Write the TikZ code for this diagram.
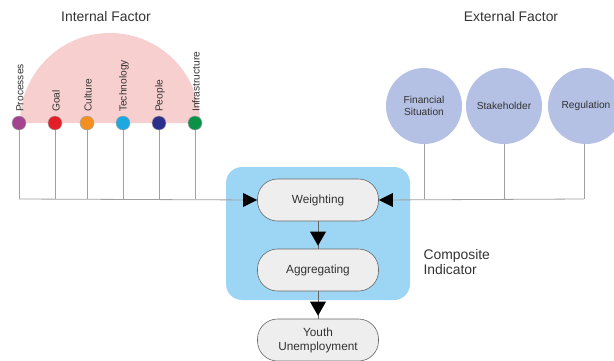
\documentclass[tikz,border=0pt]{standalone}
\usepackage{fontspec}
\setmainfont{Liberation Sans}
\usetikzlibrary{arrows.meta}
\definecolor{pinkdisc}{HTML}{F8CFCF}
\definecolor{lavender}{HTML}{B4C0E4}
\definecolor{skybox}{HTML}{9DD6F5}
\definecolor{pillfill}{HTML}{EEEEEE}
\definecolor{linegray}{HTML}{A0A0A0}
\definecolor{cProc}{HTML}{A3448F}
\definecolor{cGoal}{HTML}{E31E26}
\definecolor{cCult}{HTML}{F39020}
\definecolor{cTech}{HTML}{1DA8E2}
\definecolor{cPeop}{HTML}{2B2F8C}
\definecolor{cInfr}{HTML}{0B9247}
\tikzset{
  pill/.style={draw=gray!80!black, line width=0.6pt, fill=pillfill, rounded corners=20pt,
    minimum width=121pt, minimum height=42pt, inner sep=0pt, align=center, font=\fontsize{11.8}{14}\selectfont, text=black!80},
  dot/.style={circle, draw=gray!70, line width=0.5pt, minimum size=14pt, inner sep=0pt},
  extc/.style={circle, fill=lavender, minimum size=76pt, inner sep=0pt, align=center, font=\fontsize{10.2}{12.5}\selectfont, text=black!80},
  conn/.style={draw=linegray, line width=0.8pt},
  flow/.style={draw=gray!80!black, line width=0.8pt},
  vlabel/.style={rotate=90, anchor=west, inner sep=0pt, font=\fontsize{10.2}{11}\selectfont, text=black!80},
  title/.style={font=\fontsize{13.9}{16}\selectfont, text=black!80}
}
\begin{document}
\begin{tikzpicture}[x=1pt,y=-1pt]
\useasboundingbox (0,0) rectangle (614,360);
% internal half disc
\fill[pinkdisc] (20,123) arc[start angle=180,end angle=360,radius=90] -- cycle;
\node[title] (intl) at (106,17) {Internal Factor};
\node[title] (extl) at (511,17) {External Factor};
% blue box
\node[fill=skybox, rounded corners=16pt, minimum width=184pt, minimum height=133pt, inner sep=0pt] (box) at (318,233.5) {};
% pills
\node[pill] (w) at (318,200) {Weighting};
\node[pill] (a) at (318,270) {Aggregating};
\node[pill] (y) at (318,340) {Youth\\Unemployment};
% composite label
\node[title, align=left, anchor=west, font=\fontsize{13.9}{15.5}\selectfont] (ci) at (420,262) {Composite\\Indicator};
% junction coordinates
\coordinate (jl) at (19,199);
\coordinate (jr) at (584,199);
% internal dots
\foreach \n/\x/\c/\t in {p/19/cProc/Processes, g/55/cGoal/Goal, c/87/cCult/Culture, t/123/cTech/Technology, pe/159/cPeop/People, i/195/cInfr/Infrastructure}{
  \coordinate (b\n) at (\x,199);
  \draw[conn] (\x,123) -- (b\n);
  \node[dot, fill=\c] (d\n) at (\x,123) {};
  \node[vlabel] (l\n) at (\x+1,112) {\t};
}
% external circles
\node[extc] (fin) at (424,106) {Financial\\Situation};
\node[extc] (stk) at (504,106) {Stakeholder};
\node[extc] (reg) at (586,106) {Regulation};
\coordinate (bf) at (424,199);
\coordinate (bs) at (504,199);
\draw[conn] (fin.south) -- (bf);
\draw[conn] (stk.south) -- (bs);
\draw[conn] (reg.south -| jr) -- (jr);
% horizontal feeds
\draw[conn] (jl) -- (w.west);
\draw[conn] (jr) -- (w.east);
\fill[black] (w.west) -- ++(-14,-7) -- ++(0,14) -- cycle;
\fill[black] (w.east) -- ++(14,-7) -- ++(0,14) -- cycle;
% flow arrows
\draw[flow] (w.south) -- (a.north);
\draw[flow] (a.south) -- (y.north);
\fill[black] ([yshift=3pt]a.north) -- ++(-8,-14) -- ++(16,0) -- cycle;
\fill[black] ([yshift=3pt]y.north) -- ++(-8,-14) -- ++(16,0) -- cycle;
\end{tikzpicture}
\end{document}
